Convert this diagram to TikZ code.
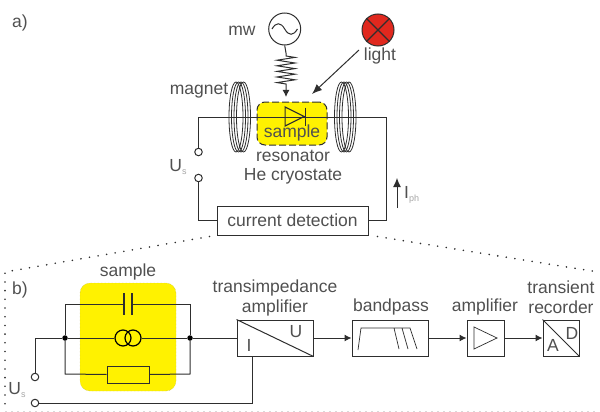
\documentclass[tikz,border=0pt]{standalone}
\usepackage{fontspec}
\setmainfont{Liberation Sans}
\usetikzlibrary{arrows.meta,shapes.geometric,decorations.pathmorphing}
\definecolor{textgray}{HTML}{505050}
\definecolor{wiregray}{HTML}{2E2E2E}
\definecolor{sampleyellow}{HTML}{FFF200}
\definecolor{lampred}{HTML}{E0281E}
\newcommand{\subtext}[1]{{\fontsize{9}{9}\selectfont\raisebox{-3pt}{\textcolor{gray!70}{#1}}}}
\tikzset{
  wire/.style={draw=wiregray, line width=1pt},
  flow/.style={-{Latex[length=7pt,width=7pt]}},
  label/.style={text=textgray, inner sep=0pt, font=\fontsize{17.5}{20}\selectfont},
  block/.style={draw=wiregray, line width=1pt, fill=white, inner sep=0pt},
  terminal/.style={circle, draw=wiregray, line width=1pt, fill=white, inner sep=0pt, minimum size=7.5pt},
  junction/.style={circle, fill=black, inner sep=0pt, minimum size=5.5pt},
  dotline/.style={line width=1.8pt, line cap=round, dash pattern=on 0pt off 8.7pt, draw=wiregray}
}
\begin{document}
\begin{tikzpicture}[x=1pt, y=-1pt]
      \useasboundingbox (0,0) rectangle (600,412);
      % part a
      \node[label] (laba) at (20,23) {a)};
      \foreach \x in {236,238.5,241,243.5}
      \draw[wiregray, line width=.8pt] (\x,117) ellipse (7pt and 35pt);
      \foreach \x in {341.5,344,346.5,349}
      \draw[wiregray, line width=.8pt] (\x,117) ellipse (7pt and 35pt);
      \node[draw=wiregray, dash pattern=on 7pt off 3pt, line width=1pt, fill=sampleyellow, rounded corners=8pt, minimum width=70pt, minimum height=43pt, inner sep=0pt] (samplea) at (292,123.5) {};
      \node[label] (mwlabel) at (242,31) {mw};
      \node[circle, draw=wiregray, line width=1pt, fill=white, minimum size=32pt, inner sep=0pt] (mw) at (284.7,29) {};
      \coordinate (mwa) at (272,29);
      \coordinate (mwb) at (297.4,29);
      \draw[wiregray, line width=1pt] (mwa) .. controls +(4,-7) and +(-4,-7) .. (mw.center) .. controls +(4,7) and +(-4,7) .. (mwb);
      \node[circle, draw=wiregray, line width=1pt, fill=lampred, minimum size=32pt, inner sep=0pt] (lamp) at (378,30) {};
      \draw[wiregray, line width=1.2pt] (lamp.north west) -- (lamp.south east) (lamp.north east) -- (lamp.south west);
      \node[label] (lightlabel) at (380,56) {light};
      \coordinate (mwend) at (286,97);
      \coordinate (mwjog) at (286,53);
      \draw[wire] (mw.south) -- (mwjog);
      \draw[wire, flow, decorate, decoration={zigzag, amplitude=9pt, segment length=5.6pt, pre length=3pt, post length=12pt}] (mwjog) -- (mwend);
      \coordinate (lightstart) at (359,50);
      \coordinate (lightend) at (312,94);
      \draw[wire, -{Latex[length=10pt,width=8pt]}] (lightstart) -- (lightend);
      \node[label] (magnet) at (199,91) {magnet};
      \coordinate (wirer) at (386,117);
      \node[terminal] (swa) at (198.5,152) {};
      \node[terminal] (swb) at (198.5,178) {};
      \node[block, minimum width=151pt, minimum height=29pt] (det) at (292.5,220.5) {};
      \draw[wire] (swa.north) |- (wirer) |- (det.east);
      \draw[wire] (swb.south) |- (det.west);
      \node[isosceles triangle, isosceles triangle apex angle=53, draw=wiregray, line width=1.2pt, inner sep=0pt, minimum height=19pt] (diode) at (291,116.5) {};
      \draw[wiregray, line width=1.2pt] (diode.apex) ++(0,-9) -- ++(0,18);
      \node[label] (samplelab) at (292,133) {sample};
      \node[label] (resonator) at (293,156) {resonator};
      \node[label] (cryo) at (293,176) {He cryostate};
      \node[label] (uslaba) at (178,167) {U\subtext{s}};
      \node[label] (detlab) at (det) {current detection};
      \coordinate (ipha) at (397,208);
      \coordinate (iphb) at (397,178);
      \draw[wire, -{Latex[length=9pt,width=8pt]}] (ipha) -- (iphb);
      \node[label, anchor=west] (iph) at (404,195) {I\subtext{ph}};
      % dotted zoom lines
      \coordinate (zooml) at (5,272);
      \coordinate (zoomr) at (598,272);
      \coordinate (zoomb) at (5,410);
      \draw[dotline] (det.south west) ++(-7,1) -- (zooml) -- (zoomb);
      \draw[dotline] (det.south east) ++(9,1) -- (zoomr);
      \draw[draw=gray!30, line width=.7pt, dash pattern=on 2pt off 4pt] (zoomb) ++(0,1.5) -- (598,411.5);
      % part b
      \node[label] (labb) at (20,290) {b)};
      \node[fill=sampleyellow, draw=gray!60!sampleyellow, densely dotted, line width=.4pt, rounded corners=10pt, minimum width=96pt, minimum height=108pt, inner sep=0pt] (sampleb) at (128,337) {};
      \node[label] (samplebl) at (128,272) {sample};
      \node[junction] (jl) at (65,338) {};
      \node[junction] (jr) at (190,338) {};
      \coordinate (capa) at (124,304);
      \coordinate (capb) at (132,304);
      \coordinate (topl) at (65,304);
      \coordinate (topr) at (190,304);
      \coordinate (botl) at (65,374);
      \coordinate (botr) at (190,374);
      \draw[wire] (jl) -- (topl) -- (capa);
      \draw[wire] (jr) -- (topr) -- (capb);
      \draw[wiregray, line width=1.2pt] (capa) ++(0,-11) -- ++(0,22) (capb) ++(0,-11) -- ++(0,22);
      \node[circle, draw=black, line width=1.2pt, minimum size=16pt, inner sep=0pt] (csa) at (123,338) {};
      \node[circle, draw=black, line width=1.2pt, minimum size=16pt, inner sep=0pt] (csb) at (133,338) {};
      \node[block, fill=none, minimum width=42pt, minimum height=17pt] (res) at (128,374.5) {};
      \draw[wire] (jl) -- (csa.west);
      \draw[wire] (csb.east) -- (jr);
      \draw[wire] (jl) -- (botl) -- (res.west);
      \draw[wire] (jr) -- (botr) -- (res.east);
      \node[terminal] (swc) at (35,377) {};
      \node[terminal] (swd) at (35,403) {};
      \node[label] (uslabb) at (17,390) {U\subtext{s}};
      \draw[wire] (swc.north) |- (jl);
      \node[block, minimum width=76pt, minimum height=36pt] (ti) at (275,338) {};
      \draw[wire] (ti.north west) -- (ti.south east);
      \node[label] (til) at (249,345) {I};
      \node[label] (tiu) at (296,332) {U};
      \node[label, align=center] (tilab) at (275,297.5) {transimpedance\\amplifier};
      \draw[wire] (jr) -- (ti.west);
      \draw[wire] (swd.east) -| (252,356);
      \node[block, minimum width=76pt, minimum height=36pt] (bp) at (390,338) {};
      \draw[wiregray, line width=.7pt] (358,350) -- (361,328) -- (410,328) -- (417,349) (394,328) -- (399,349) (402,328) -- (408,349);
      \node[label] (bplab) at (391,307) {bandpass};
      \node[block, minimum width=37pt, minimum height=36pt] (amp) at (485.5,338) {};
      \draw[wiregray, line width=.7pt] (474,327) -- (474,349) -- (497,338) -- cycle;
      \node[label] (amplab) at (485,307) {amplifier};
      \node[block, minimum width=36pt, minimum height=36pt] (rec) at (561,338) {};
      \draw[wire] (rec.north west) -- (rec.south east);
      \node[label] (reca) at (553,345) {A};
      \node[label] (recd) at (572,333) {D};
      \node[label, align=center] (reclab) at (561,297) {transient\\recorder};
      \draw[wire, flow] (ti) -- (bp);
      \draw[wire, flow] (bp) -- (amp);
      \draw[wire, flow] (amp) -- (rec);
    \end{tikzpicture}
\end{document}
